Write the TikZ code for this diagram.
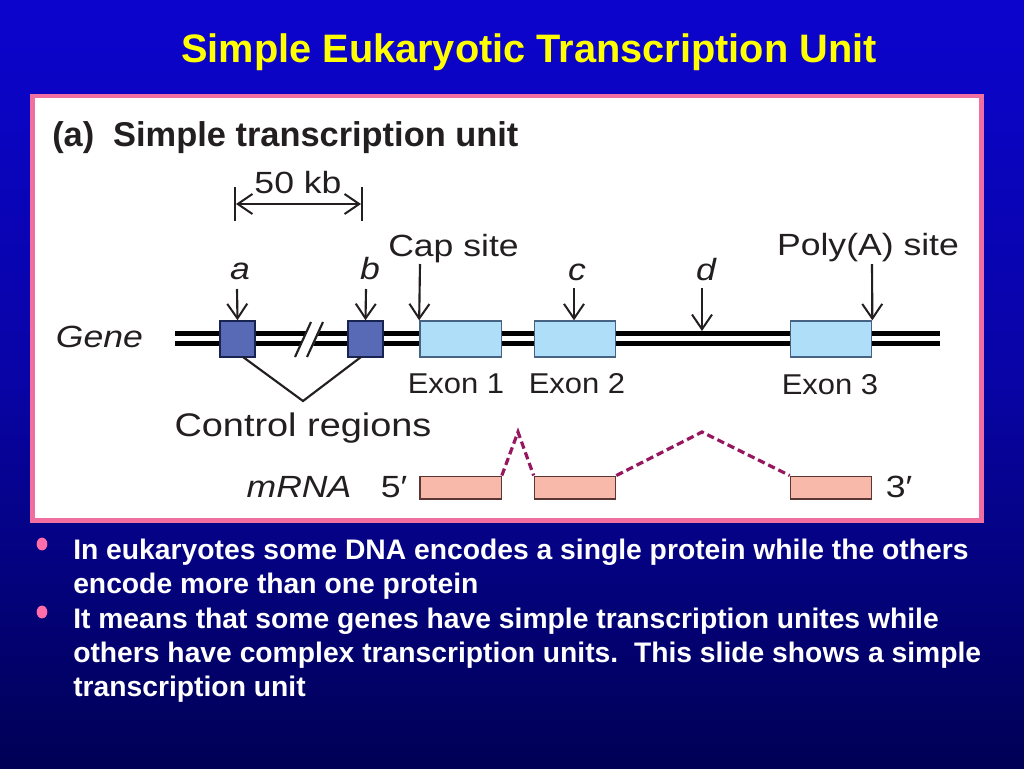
\documentclass[tikz,border=0pt]{standalone}
\usepackage{fontspec}
\setmainfont{Liberation Sans}
\newfontfamily\figfont[FakeStretch=1.16]{Liberation Sans}
\newfontfamily\exonfont[FakeStretch=1.08]{Liberation Sans}
\usetikzlibrary{arrows.meta}
\definecolor{bgtop}{RGB}{12,4,205}
\definecolor{bgmid}{RGB}{8,4,165}
\definecolor{bgbot}{RGB}{0,0,85}
\definecolor{titleyellow}{RGB}{255,255,0}
\definecolor{framepink}{RGB}{240,110,160}
\definecolor{figtext}{RGB}{35,31,32}
\definecolor{ctrlfill}{RGB}{88,106,182}
\definecolor{ctrlline}{RGB}{25,35,80}
\definecolor{exonfill}{RGB}{174,222,248}
\definecolor{exonline}{RGB}{70,100,130}
\definecolor{mrnafill}{RGB}{249,185,170}
\definecolor{mrnaline}{RGB}{90,55,50}
\definecolor{splice}{RGB}{150,22,95}
\definecolor{bulletpink}{RGB}{255,110,170}
\tikzset{
  figlabel/.style={text=figtext, inner sep=0pt, anchor=base, font=\figfont\fontsize{23}{26}\selectfont},
  figital/.style={figlabel, font=\figfont\fontsize{23}{26}\selectfont\itshape},
  exonlabel/.style={figlabel, font=\exonfont\fontsize{21.5}{25}\selectfont},
  bullettext/.style={text=white, inner sep=0pt, anchor=base west, font=\fontsize{21.2}{25}\selectfont\bfseries},
  ctrlbox/.style={draw=ctrlline, fill=ctrlfill, line width=1.2pt, minimum width=26.5pt, minimum height=27pt, inner sep=0pt},
  exonbox/.style={draw=exonline, fill=exonfill, line width=1pt, minimum width=61pt, minimum height=27pt, inner sep=0pt},
  mrnabox/.style={draw=mrnaline, fill=mrnafill, line width=1pt, minimum width=61pt, minimum height=17pt, inner sep=0pt},
  barb/.tip={Straight Barb[length=11pt,width=15pt,line width=1.5pt]},
  pointer/.style={draw=figtext, line width=1.6pt, -barb},
  genestrand/.style={line width=3.75pt, black},
  splicedash/.style={draw=splice, line width=2.4pt, dash pattern=on 5.5pt off 3pt},
}
\begin{document}
\begin{tikzpicture}[x=0.75pt,y=-0.75pt]
\useasboundingbox (0,0) rectangle (1024,768);
% background
\shade[top color=bgtop, bottom color=bgbot, middle color=bgmid] (0,0) rectangle (1024,768);
% title
\node[text=titleyellow, inner sep=0pt, anchor=base, font=\fontsize{29.8}{34}\selectfont\bfseries] (title) at (529,62) {Simple Eukaryotic Transcription Unit};
% figure frame
\draw[framepink, fill=white, line width=3.4pt] (32.5,96) rectangle (981.5,520.5);
% panel title
\node[figlabel, anchor=base west, font=\fontsize{25.8}{30}\selectfont\bfseries] (paneltitle) at (52,146) {(a)\hspace{0.55em}Simple transcription unit};
% 50 kb scale
\coordinate (barLt) at (235,187); \coordinate (barLb) at (235,221);
\coordinate (barRt) at (362,187); \coordinate (barRb) at (362,221);
\draw[figtext, line width=2pt] (barLt) -- (barLb);
\draw[figtext, line width=2pt] (barRt) -- (barRb);
\coordinate (scaleL) at (236,204); \coordinate (scaleR) at (361,204);
\draw[draw=figtext, line width=1.6pt, barb-barb] (scaleL) -- (scaleR);
\node[figlabel] (kb) at (298,193) {50 kb};
% gene strands
\coordinate (g1L) at (175,333.5); \coordinate (g1R) at (940,333.5);
\coordinate (g2L) at (175,343.5); \coordinate (g2R) at (940,343.5);
\draw[genestrand] (g1L) -- (g1R);
\draw[genestrand] (g2L) -- (g2R);
% break marks
\fill[white] (295,357) -- (311,322) -- (324,322) -- (308,357) -- cycle;
\coordinate (s1a) at (295,357); \coordinate (s1b) at (311,322);
\coordinate (s2a) at (307,357); \coordinate (s2b) at (323,322);
\draw[figtext, line width=1.6pt] (s1a) -- (s1b);
\draw[figtext, line width=1.6pt] (s2a) -- (s2b);
% control regions
\node[ctrlbox] (ca) at (237.5,339) {};
\node[ctrlbox] (cb) at (365.5,339) {};
% exons
\node[exonbox] (e1) at (460.5,339) {};
\node[exonbox] (e2) at (575,339) {};
\node[exonbox] (e3) at (831,339) {};
% labels for gene
\node[figital] (gene) at (99.5,347) {Gene};
\node[exonlabel] (ex1l) at (456,393) {Exon 1};
\node[exonlabel] (ex2l) at (577,393) {Exon 2};
\node[exonlabel] (ex3l) at (830,394) {Exon 3};
% pointers
\node[figital] (la) at (240,279) {a};
\node[figital] (lb) at (370,279) {b};
\node[figlabel] (cap) at (453.5,256) {Cap site};
\node[figital] (lc) at (577,280) {c};
\node[figital] (ld) at (706,280) {d};
\node[figlabel] (polya) at (868,255) {Poly(A) site};
\coordinate (pa) at (237,289); \coordinate (pb) at (366,289);
\coordinate (pcap) at (420,264); \coordinate (pc) at (574,288);
\coordinate (pd) at (702,288); \coordinate (ppoly) at (872,264);
\draw[pointer] (pa) -- (ca.north);
\draw[pointer] (pb) -- (cb.north);
\draw[pointer] (pcap) -- (e1.north west);
\draw[pointer] (pc) -- (pc |- e2.north);
\coordinate (dend) at (702,331);
\draw[pointer] (pd) -- (dend);
\draw[pointer] (ppoly) -- (e3.north east);
% control region V
\coordinate (vtip) at (303,401);
\coordinate (vL) at (243,357); \coordinate (vR) at (361,357);
\draw[figtext, line width=1.6pt] (vL) -- (vtip) -- (vR);
\node[figlabel, font=\figfont\fontsize{24.5}{28}\selectfont] (ctrl) at (303,436) {Control regions};
% mRNA
\node[figital] (mrna) at (299,497) {mRNA};
\node[figlabel] (five) at (394,497) {5′};
\node[figlabel] (three) at (899,497) {3′};
\node[mrnabox] (m1) at (460.5,487.5) {};
\node[mrnabox] (m2) at (575,487.5) {};
\node[mrnabox] (m3) at (831,487.5) {};
\coordinate (pk1) at (518,432);
\coordinate (pk2) at (702,432);
\draw[splicedash] (m1.north east) -- (pk1) -- (m2.north west);
\draw[splicedash] (m2.north east) -- (pk2) -- (m3.north west);
% bullets
\fill[bulletpink] (42,544) ellipse (4pt and 4.8pt);
\fill[bulletpink] (42,612) ellipse (4pt and 4.8pt);
\node[bullettext] (b1a) at (73,559) {In eukaryotes some DNA encodes a single protein while the others};
\node[bullettext] (b1b) at (73,593) {encode more than one protein};
\node[bullettext] (b2a) at (73,628) {It means that some genes have simple transcription unites while};
\node[bullettext] (b2b) at (73,662) {others have complex transcription units.\ \ This slide shows a simple};
\node[bullettext] (b2c) at (73,696) {transcription unit};
\end{tikzpicture}
\end{document}
